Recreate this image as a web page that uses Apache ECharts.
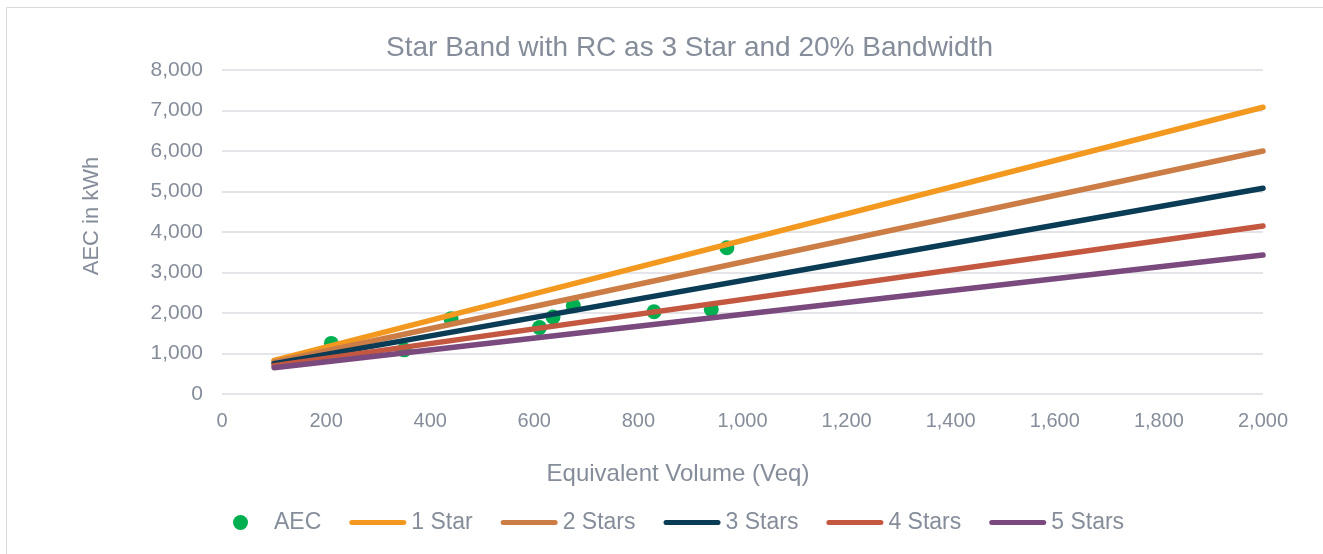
<!DOCTYPE html>
<html>
<head>
<meta charset="utf-8">
<script src="https://cdn.jsdelivr.net/npm/echarts@6/dist/echarts.min.js"></script>
<style>
  html, body { margin: 0; padding: 0; background: #ffffff; }
  #chart { width: 1323px; height: 554px; }
</style>
</head>
<body>
<div id="chart"></div>
<script>
// Measured annual energy consumption of tested units: [equivalent volume, AEC kWh]
const aecPoints = [
  [210, 1250], [350, 1090], [440, 1860], [610, 1640], [636, 1900],
  [675, 2180], [830, 2030], [940, 2090], [970, 3610]
];

// Star band boundaries, straight lines from Veq 100 to 2000
const bandVolumes = [100, 2000];
const star1 = [830, 7080];
const star2 = [790, 6000];
const star3 = [750, 5080];
const star4 = [700, 4150];
const star5 = [650, 3430];

const bandNames = ['1 Star', '2 Stars', '3 Stars', '4 Stars', '5 Stars'];
const bandValues = [star1, star2, star3, star4, star5];
const bandColors = ['#F4991F', '#CB7D45', '#0B3C55', '#C4573F', '#7A4A7E'];

const textColor = '#858D9A';
const fontFamily = '"Liberation Sans", Arial, sans-serif';

const fmt = v => v.toLocaleString('en-US');

// flat rounded bar used as the legend key of each band line
const lineIcon = 'path://M2.5,0 L54.5,0 A2.5,2.5 0 0 1 54.5,5 L2.5,5 A2.5,2.5 0 0 1 2.5,0 Z';

const series = [{
  name: 'AEC',
  type: 'scatter',
  data: aecPoints,
  symbolSize: 15,
  itemStyle: { color: '#00B050', opacity: 1 },
  z: 2
}];
bandNames.forEach((name, i) => {
  series.push({
    name: name,
    type: 'line',
    data: bandVolumes.map((v, j) => [v, bandValues[i][j]]),
    symbol: 'none',
    lineStyle: { color: bandColors[i], width: 5.5, cap: 'round' },
    itemStyle: { color: bandColors[i] },
    z: 3
  });
});

const chart = echarts.init(document.getElementById('chart'), null, { renderer: 'canvas' });
chart.setOption({
  animation: false,
  textStyle: { fontFamily: fontFamily },
  graphic: [{
    type: 'rect',
    shape: { x: 6.5, y: 7.5, width: 1400, height: 700 },
    style: { fill: 'none', stroke: '#D9D9D9', lineWidth: 1 },
    silent: true
  }, {
    type: 'text',
    x: 678,
    y: 474,
    silent: true,
    style: {
      text: 'Equivalent Volume (Veq)',
      fill: textColor,
      font: '24px "Liberation Sans", Arial, sans-serif',
      textAlign: 'center',
      textVerticalAlign: 'middle'
    }
  }, {
    type: 'text',
    x: 92,
    y: 216,
    rotation: Math.PI / 2,
    silent: true,
    style: {
      text: 'AEC in kWh',
      fill: textColor,
      font: '22px "Liberation Sans", Arial, sans-serif',
      textAlign: 'center',
      textVerticalAlign: 'middle'
    }
  }],
  title: {
    text: 'Star Band with RC as 3 Star and 20% Bandwidth',
    left: 381,
    top: 29,
    textStyle: { color: textColor, fontSize: 28, fontWeight: 'normal', fontFamily: fontFamily }
  },
  legend: {
    bottom: 15,
    left: 228,
    itemWidth: 57,
    itemHeight: 15,
    itemGap: 28,
    textStyle: { color: textColor, fontSize: 23, fontFamily: fontFamily },
    data: [{ name: 'AEC', icon: 'circle' }].concat(bandNames.map(n => ({ name: n, icon: lineIcon })))
  },
  grid: { left: 222, right: 60, top: 70, bottom: 160 },
  xAxis: {
    type: 'value',
    min: 0,
    max: 2000,
    interval: 200,
    axisLine: { show: false },
    axisTick: { show: false },
    splitLine: { show: false },
    axisLabel: { color: textColor, fontSize: 20, margin: 17, formatter: fmt }
  },
  yAxis: {
    type: 'value',
    min: 0,
    max: 8000,
    interval: 1000,
    axisLine: { show: false },
    axisTick: { show: false },
    splitLine: { show: true, lineStyle: { color: '#DDDDE2', width: 1.5 } },
    axisLabel: { color: textColor, fontSize: 21, margin: 19, formatter: fmt }
  },
  series: series
});
</script>
</body>
</html>
